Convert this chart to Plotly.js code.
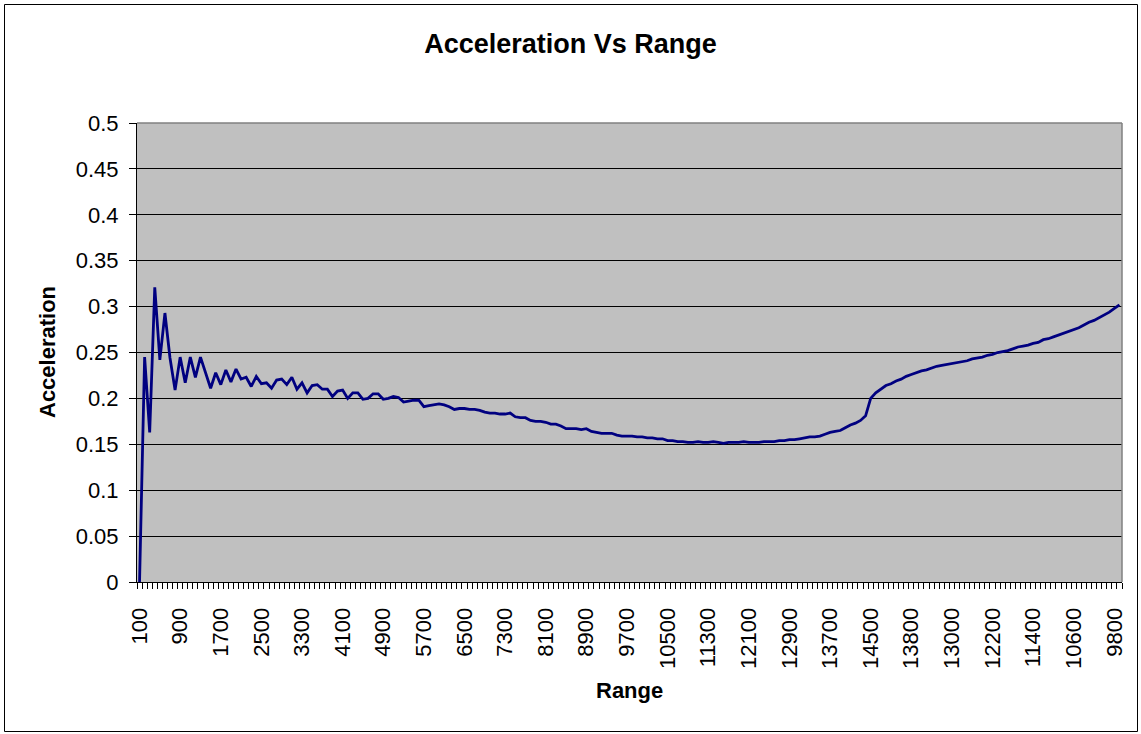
<!DOCTYPE html>
<html>
<head>
<meta charset="utf-8">
<script src="https://cdn.plot.ly/plotly-3.0.1.min.js"></script>
<style>
  html, body { margin: 0; padding: 0; background: #ffffff; }
  #chart { width: 1141px; height: 734px; }
</style>
</head>
<body>
<div id="chart"></div>
<script>
// Range categories (x axis, in data order)
const ranges = [
  100, 200, 300, 400, 500, 600, 700, 800, 900, 1000,
  1100, 1200, 1300, 1400, 1500, 1600, 1700, 1800, 1900, 2000,
  2100, 2200, 2300, 2400, 2500, 2600, 2700, 2800, 2900, 3000,
  3100, 3200, 3300, 3400, 3500, 3600, 3700, 3800, 3900, 4000,
  4100, 4200, 4300, 4400, 4500, 4600, 4700, 4800, 4900, 5000,
  5100, 5200, 5300, 5400, 5500, 5600, 5700, 5800, 5900, 6000,
  6100, 6200, 6300, 6400, 6500, 6600, 6700, 6800, 6900, 7000,
  7100, 7200, 7300, 7400, 7500, 7600, 7700, 7800, 7900, 8000,
  8100, 8200, 8300, 8400, 8500, 8600, 8700, 8800, 8900, 9000,
  9100, 9200, 9300, 9400, 9500, 9600, 9700, 9800, 9900, 10000,
  10100, 10200, 10300, 10400, 10500, 10600, 10700, 10800, 10900, 11000,
  11100, 11200, 11300, 11400, 11500, 11600, 11700, 11800, 11900, 12000,
  12100, 12200, 12300, 12400, 12500, 12600, 12700, 12800, 12900, 13000,
  13100, 13200, 13300, 13400, 13500, 13600, 13700, 13800, 13900, 14000,
  14100, 14200, 14300, 14400, 14500,
  14500, 14400, 14300, 14200, 14100, 14000, 13900, 13800, 13700, 13600,
  13500, 13400, 13300, 13200, 13100, 13000, 12900, 12800, 12700, 12600,
  12500, 12400, 12300, 12200, 12100, 12000, 11900, 11800, 11700, 11600,
  11500, 11400, 11300, 11200, 11100, 11000, 10900, 10800, 10700, 10600,
  10500, 10400, 10300, 10200, 10100, 10000, 9900, 9800, 9700
];

// Acceleration values
const acceleration = [
  0.000, 0.245, 0.163, 0.321, 0.242, 0.293, 0.244, 0.209, 0.245, 0.217,
  0.245, 0.223, 0.245, 0.227, 0.211, 0.228, 0.215, 0.231, 0.218, 0.232,
  0.221, 0.223, 0.213, 0.224, 0.216, 0.217, 0.211, 0.220, 0.221, 0.215,
  0.223, 0.210, 0.217, 0.206, 0.214, 0.215, 0.210, 0.210, 0.202, 0.208,
  0.209, 0.200, 0.206, 0.206, 0.199, 0.200, 0.205, 0.205, 0.199, 0.200,
  0.202, 0.201, 0.196, 0.197, 0.198, 0.198, 0.191, 0.192, 0.193, 0.194,
  0.193, 0.191, 0.188, 0.189, 0.189, 0.188, 0.188, 0.187, 0.185, 0.184,
  0.184, 0.183, 0.183, 0.184, 0.180, 0.179, 0.179, 0.176, 0.175, 0.175,
  0.174, 0.172, 0.172, 0.170, 0.167, 0.167, 0.167, 0.166, 0.167, 0.164,
  0.163, 0.162, 0.162, 0.162, 0.160, 0.159, 0.159, 0.159, 0.158, 0.158,
  0.157, 0.157, 0.156, 0.156, 0.154, 0.154, 0.153, 0.153, 0.152, 0.152,
  0.153, 0.152, 0.152, 0.153, 0.152, 0.151, 0.152, 0.152, 0.152, 0.153,
  0.152, 0.152, 0.152, 0.153, 0.153, 0.153, 0.154, 0.154, 0.155, 0.155,
  0.156, 0.157, 0.158, 0.158, 0.159, 0.161, 0.163, 0.164, 0.165, 0.168,
  0.171, 0.173, 0.176, 0.181, 0.200,
  0.206, 0.210, 0.214, 0.216, 0.219, 0.221, 0.224, 0.226, 0.228, 0.230,
  0.231, 0.233, 0.235, 0.236, 0.237, 0.238, 0.239, 0.240, 0.241, 0.243,
  0.244, 0.245, 0.247, 0.248, 0.250, 0.251, 0.252, 0.254, 0.256, 0.257,
  0.258, 0.260, 0.261, 0.264, 0.265, 0.267, 0.269, 0.271, 0.273, 0.275,
  0.277, 0.280, 0.283, 0.285, 0.288, 0.291, 0.294, 0.298, 0.302
];

// Every 8th category is labelled
const labelStep = 8;

const FONT = 'Liberation Sans, Arial, Helvetica, sans-serif';

const xIndex = ranges.map((_, i) => i);
const tickIdx = xIndex.filter(i => i % labelStep === 0);
const tickTxt = tickIdx.map(i => String(ranges[i]));

const trace = {
  x: xIndex,
  y: acceleration,
  customdata: ranges,
  type: 'scatter',
  mode: 'lines',
  line: { color: '#000080', width: 2.8 },
  hovertemplate: 'Range %{customdata}<br>Acceleration %{y}<extra></extra>'
};

// plot-area pixel box: x 137..1122, y 123..582
const L = 137, R = 1122, T = 123, B = 582;
const W = R - L, H = B - T;
const px = v => (v - L) / W;
const py = v => (B - v) / H;

const layout = {
  width: 1141,
  height: 734,
  margin: { l: L, r: 1141 - R, t: T, b: 734 - B, pad: 0 },
  paper_bgcolor: '#ffffff',
  plot_bgcolor: '#C0C0C0',
  showlegend: false,
  font: { family: FONT, color: '#000000', size: 22 },
  title: {
    text: '<b>Acceleration Vs Range</b>',
    font: { family: FONT, size: 27, color: '#000000' },
    xref: 'container', yref: 'container',
    x: 0.5, xanchor: 'center',
    y: 1 - 44 / 734, yanchor: 'middle'
  },
  xaxis: {
    range: [-0.5, ranges.length - 0.5],
    tickmode: 'array',
    tickvals: tickIdx,
    ticktext: tickTxt,
    tickangle: -90,
    ticks: '',
    ticklabelstandoff: 16,
    tickfont: { family: FONT, size: 22, color: '#000000' },
    showgrid: false,
    zeroline: false,
    showline: true,
    linecolor: '#000000',
    linewidth: 1,
    minor: {
      tickmode: 'linear',
      tick0: -0.5,
      dtick: 1,
      ticks: 'outside',
      ticklen: 6,
      tickcolor: '#000000',
      tickwidth: 1,
      showgrid: false
    },
    fixedrange: true
  },
  yaxis: {
    range: [0, 0.5],
    tickmode: 'linear',
    tick0: 0,
    dtick: 0.05,
    ticks: 'outside',
    ticklen: 7,
    tickcolor: '#000000',
    ticklabelstandoff: 6,
    tickfont: { family: FONT, size: 22, color: '#000000' },
    showgrid: true,
    gridcolor: '#000000',
    gridwidth: 1,
    zeroline: false,
    showline: true,
    linecolor: '#000000',
    linewidth: 1,
    fixedrange: true
  },
  annotations: [
    {
      text: '<b>Range</b>',
      xref: 'paper', yref: 'paper',
      x: px(629), y: py(690),
      xanchor: 'center', yanchor: 'middle',
      showarrow: false,
      font: { family: FONT, size: 22, color: '#000000' }
    },
    {
      text: '<b>Acceleration</b>',
      xref: 'paper', yref: 'paper',
      x: px(47), y: py(352),
      xanchor: 'center', yanchor: 'middle',
      textangle: -90,
      showarrow: false,
      font: { family: FONT, size: 22, color: '#000000' }
    }
  ],
  shapes: [
    // plot area border (top and right, grey)
    { type: 'line', xref: 'paper', yref: 'paper', x0: 0, x1: 1, y0: 1, y1: 1,
      line: { color: '#808080', width: 1.5 } },
    { type: 'line', xref: 'paper', yref: 'paper', x0: 1, x1: 1, y0: 0, y1: 1,
      line: { color: '#808080', width: 1.5 } },
    // chart outer frame
    { type: 'rect', xref: 'paper', yref: 'paper',
      x0: px(4.5), x1: px(1137.5), y0: py(731.5), y1: py(4.5),
      line: { color: '#000000', width: 1 }, fillcolor: 'rgba(0,0,0,0)', layer: 'below' }
  ]
};

Plotly.newPlot('chart', [trace], layout, { displayModeBar: false, staticPlot: false });
</script>
</body>
</html>
